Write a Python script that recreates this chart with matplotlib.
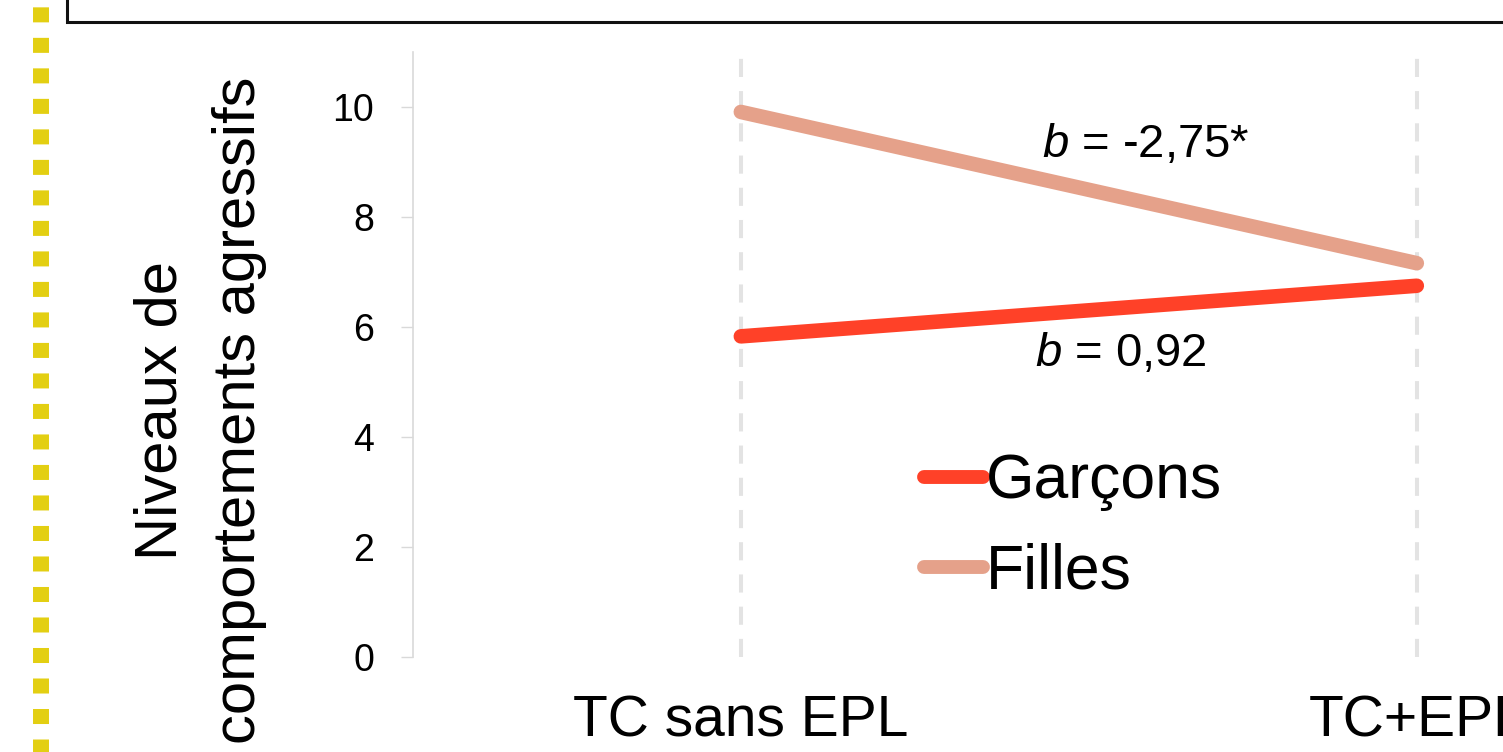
import matplotlib
matplotlib.use('Agg')
import matplotlib.pyplot as plt
from matplotlib.lines import Line2D

plt.rcParams['font.family'] = ['Liberation Sans', 'DejaVu Sans']
plt.rcParams['mathtext.fontset'] = 'custom'
plt.rcParams['mathtext.rm'] = 'Liberation Sans'
plt.rcParams['mathtext.it'] = 'Liberation Sans:italic'

# data
conditions = ['TC sans EPL', 'TC+EPL']
garcons = [5.83, 6.75]
filles = [9.91, 7.16]
series_names = ['Garçons', 'Filles']
slopes = ['$b$ = -2,75*', '$b$ = 0,92']
yticks = [0, 2, 4, 6, 8, 10]

c_garcons = '#FF4128'
c_filles = '#E5A18A'
grid_c = '#E3E3E3'

fig = plt.figure(figsize=(15.03, 7.52), dpi=100)
W, H = 1503.0, 752.0

# axes placed in pixel terms, right side runs off the page (cropped screenshot)
ax = fig.add_axes([413 / W, 95 / H, (1552 - 413) / W, 605 / H])
x = list(range(len(conditions)))

for xi in x:
        ax.axvline(xi, color=grid_c, lw=2.9, dashes=(4.5, 3.5), zorder=1)

ax.plot(x, garcons, color=c_garcons, lw=10.5, solid_capstyle='round', label=series_names[0], zorder=3)
ax.plot(x, filles, color=c_filles, lw=10.5, solid_capstyle='round', label=series_names[1], zorder=2)

ax.set_xlim(-0.485, 1.2)
ax.set_ylim(0, 11)
ax.set_yticks(yticks)
ax.set_yticklabels([str(v) for v in yticks], fontsize=27)
ax.set_xticks(x)
ax.set_xticklabels(conditions, fontsize=41)
ax.tick_params(axis='y', length=9, width=1, color='#D9D9D9', pad=19)
ax.tick_params(axis='x', length=0, pad=27)

for s in ['top', 'right', 'bottom']:
        ax.spines[s].set_visible(False)
ax.spines['left'].set_color('#D9D9D9')
ax.spines['left'].set_linewidth(1.2)

ax.text(0.599, 9.31, slopes[0], fontsize=34, ha='center', va='center')
ax.text(0.562, 5.5, slopes[1], fontsize=34, ha='center', va='center')

leg = ax.legend(loc='center', bbox_to_anchor=(1073 / W, 1 - 527 / H), bbox_transform=fig.transFigure,
                fontsize=45, frameon=False, handlelength=0.95, handletextpad=0.05,
                labelspacing=0.5, borderpad=0)
for h in leg.get_lines():
        h.set_solid_capstyle('round')
        h.set_linewidth(10)

fig.text(200 / W, 1 - 410 / H, 'Niveaux de\ncomportements agressifs', fontsize=43,
         rotation=90, ha='center', va='center', multialignment='center', linespacing=1.55)

# yellow dotted rule on the left
fig.add_artist(Line2D([41 / W, 41 / W], [1, 0], transform=fig.transFigure, color='#E3CF12',
                      lw=11.5, linestyle=(1.45, (0.94, 0.97)), dash_capstyle='butt'))
# frame of the box above (cut off)
fig.add_artist(Line2D([67 / W, 67 / W, 1], [1, 1 - 22 / H, 1 - 22 / H], transform=fig.transFigure,
                      color='#111111', lw=2.2, solid_joinstyle='miter'))

fig.savefig('out.png', dpi=100)
